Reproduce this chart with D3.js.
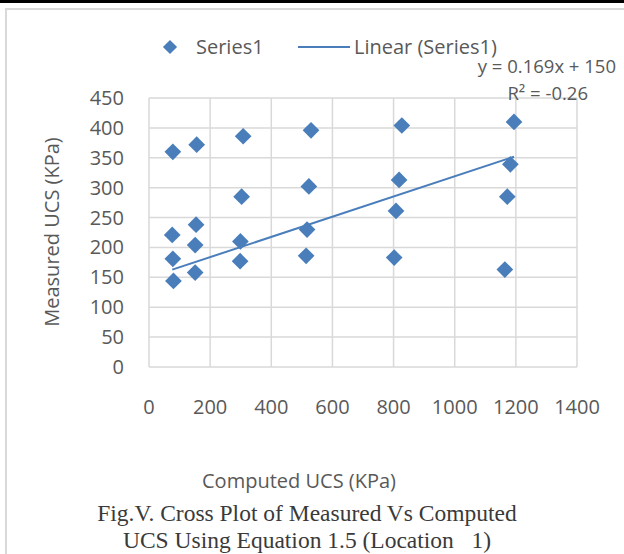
<!DOCTYPE html>
<html>
<head>
<meta charset="utf-8">
<script src="https://cdn.jsdelivr.net/npm/d3@7"></script>
<style>
  body { margin: 0; background: #fff; }
  text { font-family: "Open Sans", sans-serif; fill: #595959; }
  .caption { font-family: "Liberation Serif", "Times New Roman", serif; fill: #3a3a3a; }
</style>
</head>
<body>
<div id="chart"></div>
<script>
// computed UCS (x) and measured UCS (y), KPa
const computedUCS = [78, 156, 308, 530, 303, 523, 76, 154, 151, 299, 517, 78,
                     151, 298, 514, 80, 827, 1194, 1182, 818, 1172, 808, 802, 1164];
const measuredUCS = [360, 372, 386, 396, 285, 302, 221, 238, 204, 210, 230, 181,
                     158, 177, 186, 144, 404, 410, 339, 313, 285, 261, 183, 163];

const xTicks = [0, 200, 400, 600, 800, 1000, 1200, 1400];
const yTicks = [0, 50, 100, 150, 200, 250, 300, 350, 400, 450];

// trendline as printed on the chart
const slope = 0.169;
const intercept = 150;
const equationText = 'y = 0.169x + 150';
const r2Text = 'R² = -0.26';

const width = 624, height = 554;
const blue = '#4a7ebb';
const gridColor = '#d9d9d9';

const svg = d3.select('#chart').append('svg')
    .attr('width', width)
    .attr('height', height);

// page frame
svg.append('rect')
    .attr('x', 0).attr('y', 0)
    .attr('width', width).attr('height', 3)
    .style('fill', '#000');
svg.append('path')
    .attr('d', `M6,${height} V9 H${width}`)
    .style('fill', 'none')
    .style('stroke', gridColor)
    .style('stroke-width', 2);

const x = d3.scaleLinear().domain([0, 1400]).range([149, 577]);
const y = d3.scaleLinear().domain([0, 450]).range([367, 98]);

// gridlines
svg.append('g').selectAll('line')
    .data(xTicks)
    .enter()
    .append('line')
    .attr('x1', d => x(d)).attr('x2', d => x(d))
    .attr('y1', y(0)).attr('y2', y(450))
    .style('stroke', gridColor)
    .style('stroke-width', 1.5);

svg.append('g').selectAll('line')
    .data(yTicks)
    .enter()
    .append('line')
    .attr('x1', x(0)).attr('x2', x(1400))
    .attr('y1', d => y(d)).attr('y2', d => y(d))
    .style('stroke', gridColor)
    .style('stroke-width', 1.5);

// tick labels
svg.append('g').selectAll('text')
    .data(yTicks)
    .enter()
    .append('text')
    .attr('x', 124)
    .attr('y', d => y(d))
    .attr('dy', '0.35em')
    .style('text-anchor', 'end')
    .style('font-size', '20px')
    .text(d => d);

svg.append('g').selectAll('text')
    .data(xTicks)
    .enter()
    .append('text')
    .attr('x', d => x(d))
    .attr('y', 407)
    .attr('dy', '0.35em')
    .style('text-anchor', 'middle')
    .style('font-size', '20px')
    .text(d => d);

// trendline over the range of the data
const xMin = d3.min(computedUCS), xMax = d3.max(computedUCS);
svg.append('line')
    .attr('x1', x(xMin)).attr('y1', y(slope * xMin + intercept))
    .attr('x2', x(xMax)).attr('y2', y(slope * xMax + intercept))
    .style('stroke', blue)
    .style('stroke-width', 2);

// points
const diamond = d3.symbol().type(d3.symbolSquare).size(140);
svg.append('g').selectAll('path')
    .data(computedUCS.map((c, i) => ({ c: c, m: measuredUCS[i] })))
    .enter()
    .append('path')
    .attr('d', diamond)
    .attr('transform', d => `translate(${x(d.c)},${y(d.m)}) rotate(45)`)
    .style('fill', blue);

// equation labels
svg.append('text')
    .attr('x', 616).attr('y', 73)
    .style('text-anchor', 'end')
    .style('font-size', '18.5px')
    .text(equationText);
svg.append('text')
    .attr('x', 588).attr('y', 100)
    .style('text-anchor', 'end')
    .style('font-size', '18.5px')
    .text(r2Text);

// legend
svg.append('path')
    .attr('d', d3.symbol().type(d3.symbolSquare).size(100))
    .attr('transform', 'translate(170,47) rotate(45)')
    .style('fill', blue);
svg.append('text')
    .attr('x', 196).attr('y', 54)
    .style('font-size', '20px')
    .text('Series1');
svg.append('line')
    .attr('x1', 298).attr('x2', 350)
    .attr('y1', 47).attr('y2', 47)
    .style('stroke', blue)
    .style('stroke-width', 2);
svg.append('text')
    .attr('x', 354).attr('y', 54)
    .style('font-size', '20px')
    .text('Linear (Series1)');

// axis titles
svg.append('text')
    .attr('transform', 'translate(52,232) rotate(-90)')
    .attr('dy', '0.35em')
    .style('text-anchor', 'middle')
    .style('font-size', '20px')
    .text('Measured UCS (KPa)');
svg.append('text')
    .attr('x', 299).attr('y', 488)
    .style('text-anchor', 'middle')
    .style('font-size', '20px')
    .text('Computed UCS (KPa)');

// figure caption
svg.append('text')
    .attr('class', 'caption')
    .attr('x', 307)
    .style('text-anchor', 'middle')
    .style('font-size', '23.5px')
    .selectAll('tspan')
    .data(['Fig.V. Cross Plot of Measured Vs Computed',
           'UCS Using Equation 1.5 (Location \u00a0 1)'])
    .enter()
    .append('tspan')
    .attr('x', 307)
    .attr('y', (d, i) => 521 + i * 27)
    .text(d => d);
</script>
</body>
</html>
